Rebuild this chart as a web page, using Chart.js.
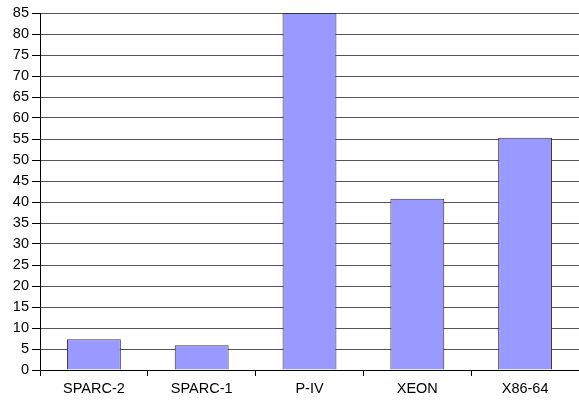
<!DOCTYPE html>
<html>
<head>
<meta charset="utf-8">
<script src="https://cdn.jsdelivr.net/npm/chart.js@4/dist/chart.umd.min.js"></script>
<style>
  html, body { margin: 0; padding: 0; background: #fff; }
  #wrap { width: 579px; height: 401px; }
</style>
</head>
<body>
<div id="wrap"><canvas id="chart"></canvas></div>
<script>
// Categorias e valores
const categorias = ['SPARC-2', 'SPARC-1', 'P-IV', 'XEON', 'X86-64'];
const valores = [7.3, 5.9, 85, 40.8, 55.3];
const yMin = 0;
const yMax = 85;
const yPasso = 5;

function initChart() {
    const ctx = document.getElementById('chart').getContext('2d');
    new Chart(ctx, {
        type: 'bar',
        data: {
            labels: categorias,
            datasets: [{
                data: valores,
                backgroundColor: '#9999FF',
                borderColor: '#333333',
                borderWidth: 1,
                categoryPercentage: 1,
                barPercentage: 0.5
            }]
        },
        options: {
            responsive: true,
            maintainAspectRatio: false,
            animation: false,
            layout: { padding: { top: 13, right: 0, left: 0, bottom: 0 } },
            plugins: {
                legend: { display: false },
                tooltip: { enabled: false }
            },
            scales: {
                x: {
                    grid: { drawOnChartArea: false, drawTicks: true, tickLength: 6, color: '#000', tickColor: '#000' },
                    border: { color: '#000', width: 1 },
                    ticks: { color: '#000', font: { family: 'Liberation Sans', size: 14.5 }, padding: 4, maxRotation: 0 },
                    afterFit: s => { s.height = 31; }
                },
                y: {
                    min: yMin,
                    max: yMax,
                    grid: { color: '#555555', tickLength: 8, tickColor: '#000' },
                    border: { color: '#000', width: 1 },
                    ticks: { stepSize: yPasso, color: '#000', font: { family: 'Liberation Sans', size: 14.5 }, padding: 3 },
                    afterFit: s => { s.width = 40; }
                }
            }
        }
    });
}

document.addEventListener('DOMContentLoaded', initChart);
</script>
</body>
</html>
